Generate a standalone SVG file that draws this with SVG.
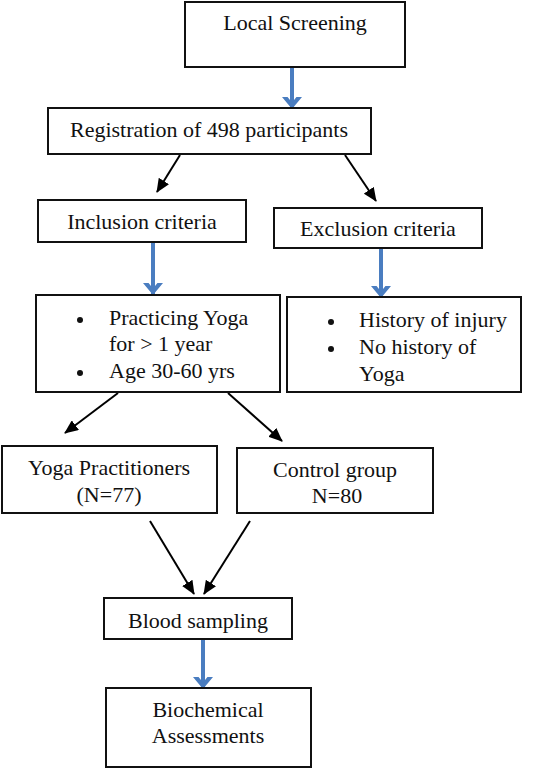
<svg xmlns="http://www.w3.org/2000/svg" width="539" height="769" viewBox="0 0 539 769">
<style>
.box{fill:#fff;stroke:#111;stroke-width:2}
.t{font-family:"Liberation Serif","Times New Roman",serif;font-size:22px;fill:#111}
.c{text-anchor:middle}
.blue{stroke:#4a7dc0;stroke-width:4;fill:none}
.blk{stroke:#000;stroke-width:2;fill:none}
</style>
<defs>
<marker id="bh" markerUnits="userSpaceOnUse" markerWidth="20" markerHeight="20" refX="9" refY="16" orient="0" viewBox="0 0 18 18">
<path d="M0 6 L5 6 L9 11 L13 6 L18 6 L9 17 Z" fill="#4a7dc0"/>
</marker>
<marker id="ah" markerUnits="userSpaceOnUse" markerWidth="14" markerHeight="12" refX="13" refY="6" orient="auto" viewBox="0 0 14 12">
<path d="M0 0 L14 6 L0 12 Z" fill="#000"/>
</marker>
</defs>
<g id="connectors">
<line class="blue" x1="292" y1="67" x2="292" y2="108" marker-end="url(#bh)"/>
<line class="blk" x1="180" y1="155" x2="157" y2="192" marker-end="url(#ah)"/>
<line class="blk" x1="345" y1="155" x2="376" y2="201" marker-end="url(#ah)"/>
<line class="blue" x1="153" y1="243" x2="153" y2="294" marker-end="url(#bh)"/>
<line class="blue" x1="381" y1="249" x2="381" y2="297" marker-end="url(#bh)"/>
<line class="blk" x1="118" y1="393" x2="65" y2="433" marker-end="url(#ah)"/>
<line class="blk" x1="228" y1="393" x2="282" y2="441" marker-end="url(#ah)"/>
<line class="blk" x1="150" y1="521" x2="194" y2="594" marker-end="url(#ah)"/>
<line class="blk" x1="250" y1="521" x2="204" y2="594" marker-end="url(#ah)"/>
<line class="blue" x1="203" y1="640" x2="203" y2="688" marker-end="url(#bh)"/>
</g>
<g id="local-screening">
<rect class="box" x="185" y="2" width="220" height="65"/>
<text class="t c" x="295" y="30">Local Screening</text>
</g>
<g id="registration">
<rect class="box" x="48" y="108" width="323" height="46"/>
<text class="t c" x="209" y="137">Registration of 498 participants</text>
</g>
<g id="inclusion">
<rect class="box" x="38" y="200" width="208" height="42"/>
<text class="t c" x="142" y="229">Inclusion criteria</text>
</g>
<g id="exclusion">
<rect class="box" x="274" y="208" width="208" height="40"/>
<text class="t c" x="378" y="236">Exclusion criteria</text>
</g>
<g id="inclusion-list">
<rect class="box" x="36" y="295" width="244" height="97"/>
<circle cx="80" cy="320" r="3" fill="#111"/>
<circle cx="80" cy="373" r="3" fill="#111"/>
<text class="t" x="109" y="325">Practicing Yoga</text>
<text class="t" x="109" y="351">for &gt; 1 year</text>
<text class="t" x="109" y="378">Age 30-60 yrs</text>
</g>
<g id="exclusion-list">
<rect class="box" x="287" y="297" width="234" height="95"/>
<circle cx="331" cy="322" r="3" fill="#111"/>
<circle cx="331" cy="349" r="3" fill="#111"/>
<text class="t" x="359" y="327">History of injury</text>
<text class="t" x="359" y="354">No history of</text>
<text class="t" x="359" y="381">Yoga</text>
</g>
<g id="yoga-practitioners">
<rect class="box" x="2" y="446" width="215" height="67"/>
<text class="t c" x="109" y="475">Yoga Practitioners</text>
<text class="t c" x="109" y="502">(N=77)</text>
</g>
<g id="control-group">
<rect class="box" x="237" y="448" width="196" height="65"/>
<text class="t c" x="335" y="477">Control group</text>
<text class="t c" x="337" y="503">N=80</text>
</g>
<g id="blood-sampling">
<rect class="box" x="104" y="598" width="188" height="41"/>
<text class="t c" x="198" y="628">Blood sampling</text>
</g>
<g id="biochemical">
<rect class="box" x="106" y="688" width="205" height="79"/>
<text class="t c" x="208" y="717">Biochemical</text>
<text class="t c" x="208" y="743">Assessments</text>
</g>
</svg>
